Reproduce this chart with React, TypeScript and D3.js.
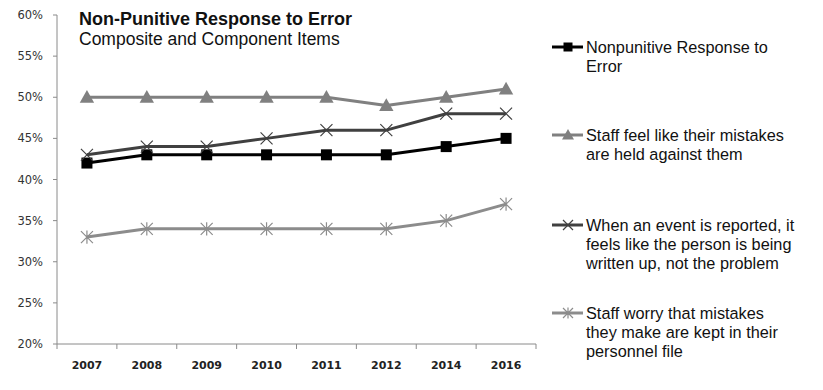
import * as d3 from 'd3';
import { useEffect, useRef } from 'react';

const years = ['2007', '2008', '2009', '2010', '2011', '2012', '2014', '2016'];
const compositeValues = [42, 43, 43, 43, 43, 43, 44, 45];
const heldAgainstValues = [50, 50, 50, 50, 50, 49, 50, 51];
const writtenUpValues = [43, 44, 44, 45, 46, 46, 48, 48];
const personnelFileValues = [33, 34, 34, 34, 34, 34, 35, 37];
const yTicks = [20, 25, 30, 35, 40, 45, 50, 55, 60];

const series = [
  { lines: ['Nonpunitive Response to', 'Error'], values: compositeValues, color: '#000000', marker: 'square' },
  { lines: ['Staff feel like their mistakes', 'are held against them'], values: heldAgainstValues, color: '#808080', marker: 'triangle' },
  { lines: ['When an event is reported, it', 'feels like the person is being', 'written up, not the problem'], values: writtenUpValues, color: '#404040', marker: 'x' },
  { lines: ['Staff worry that mistakes', 'they make are kept in their', 'personnel file'], values: personnelFileValues, color: '#8c8c8c', marker: 'star' },
];

const legendTops = [47, 135, 225, 313];

const drawMarker = (g, type, color, cx, cy, size) => {
  if (type === 'square') {
    g.append('rect').attr('x', cx - size / 2).attr('y', cy - size / 2).attr('width', size).attr('height', size).attr('fill', color);
  } else if (type === 'triangle') {
    const s = size;
    g.append('path')
      .attr('d', `M${cx},${cy - s * 0.6}L${cx + s * 0.6},${cy + s * 0.45}L${cx - s * 0.6},${cy + s * 0.45}Z`)
      .attr('fill', color);
  } else if (type === 'x') {
    const s = size / 2;
    g.append('path')
      .attr('d', `M${cx - s},${cy - s}L${cx + s},${cy + s}M${cx - s},${cy + s}L${cx + s},${cy - s}`)
      .attr('stroke', color).attr('stroke-width', 1.2).attr('fill', 'none');
  } else {
    const s = size / 2;
    g.append('path')
      .attr('d', `M${cx - s},${cy - s}L${cx + s},${cy + s}M${cx - s},${cy + s}L${cx + s},${cy - s}M${cx},${cy - s * 1.1}L${cx},${cy + s * 1.1}`)
      .attr('stroke', color).attr('stroke-width', 1.2).attr('fill', 'none');
  }
};

const App = () => {
  const svgRef = useRef(null);

  useEffect(() => {
    const svg = d3.select(svgRef.current);
    svg.selectAll('*').remove();

    const left = 57;
    const right = 536;
    const top = 15;
    const bottom = 344;

    const x = d3.scaleBand().domain(years).range([left, right]);
    const y = d3.scaleLinear().domain([20, 60]).range([bottom, top]);
    const cx = (year) => x(year) + x.bandwidth() / 2;

    // axes
    const axisColor = '#8a8a8a';
    svg.append('line').attr('x1', left).attr('x2', left).attr('y1', top).attr('y2', bottom).attr('stroke', axisColor);
    svg.append('line').attr('x1', left).attr('x2', right).attr('y1', bottom).attr('y2', bottom).attr('stroke', axisColor);

    svg.append('g').selectAll('line').data(yTicks).join('line')
      .attr('x1', left - 4).attr('x2', left).attr('y1', (d) => y(d)).attr('y2', (d) => y(d)).attr('stroke', axisColor);
    svg.append('g').selectAll('text').data(yTicks).join('text')
      .attr('x', left - 14).attr('y', (d) => y(d)).attr('dy', '0.35em')
      .attr('text-anchor', 'end').attr('fill', '#333')
      .style('font-family', '"DejaVu Sans", sans-serif').style('font-size', '11.5px')
      .text((d) => `${d}%`);

    const bounds = years.map((yr) => x(yr)).concat([right]);
    svg.append('g').selectAll('line').data(bounds).join('line')
      .attr('x1', (d) => d).attr('x2', (d) => d).attr('y1', bottom).attr('y2', bottom + 5).attr('stroke', axisColor);
    svg.append('g').selectAll('text').data(years).join('text')
      .attr('x', (d) => cx(d)).attr('y', 369)
      .attr('text-anchor', 'middle').attr('fill', '#222')
      .style('font-family', '"DejaVu Sans", sans-serif').style('font-size', '11px').style('font-weight', 'bold')
      .text((d) => d);

    // lines
    const line = d3.line().x((d, i) => cx(years[i])).y((d) => y(d));
    series.forEach((s) => {
      svg.append('path').datum(s.values).attr('d', line)
        .attr('fill', 'none').attr('stroke', s.color).attr('stroke-width', 3).attr('stroke-linejoin', 'round');
      const g = svg.append('g');
      s.values.forEach((v, i) => {
        drawMarker(g, s.marker, s.color, cx(years[i]), y(v), s.marker === 'square' ? 11 : 12);
      });
    });

    // title
    svg.append('text').attr('x', 79).attr('y', 25).attr('fill', '#111')
      .style('font-family', '"Liberation Sans", Arial, sans-serif').style('font-size', '18px').style('font-weight', 'bold')
      .text('Non-Punitive Response to Error');
    svg.append('text').attr('x', 79).attr('y', 45).attr('fill', '#111')
      .style('font-family', '"Liberation Sans", Arial, sans-serif').style('font-size', '17.5px')
      .text('Composite and Component Items');

    // legend
    series.forEach((s, i) => {
      const ly = legendTops[i];
      const g = svg.append('g');
      g.append('line').attr('x1', 552).attr('x2', 583).attr('y1', ly).attr('y2', ly).attr('stroke', s.color).attr('stroke-width', 3);
      drawMarker(g, s.marker, s.color, 568, ly, s.marker === 'square' ? 9 : 10);
      g.append('text').attr('x', 586).attr('y', ly).attr('fill', '#111')
        .style('font-family', '"Liberation Sans", Arial, sans-serif').style('font-size', '16.3px')
        .selectAll('tspan').data(s.lines).join('tspan')
        .attr('x', 586).attr('y', (d, j) => ly + j * 19).attr('dy', '0.35em')
        .text((d) => d);
    });
  }, []);

  return (
    <svg ref={svgRef} width={823} height={390} style={{ position: 'absolute', left: 0, top: 0, background: '#fff' }} />
  );
};

export default App;
